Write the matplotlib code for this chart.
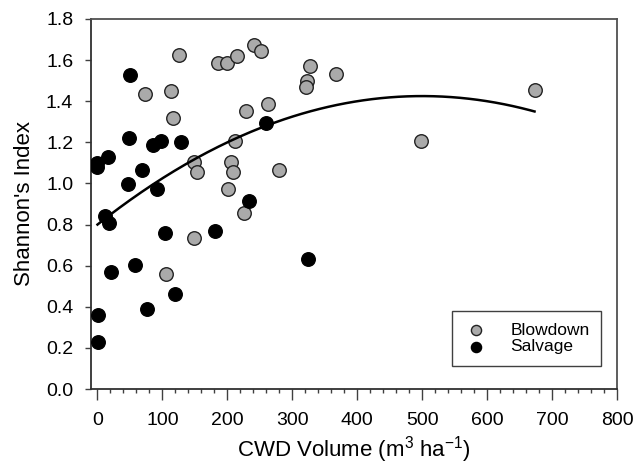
import matplotlib.pyplot as plt
import numpy as np

plt.rcParams['font.family'] = ['Liberation Sans', 'DejaVu Sans']

# Blowdown sites
blow_x = [126, 186, 199, 215, 241, 252, 328, 323, 321, 367, 73, 113, 117, 229,
          263, 212, 149, 153, 205, 209, 279, 201, 225, 148, 106, 498, 673]
blow_y = [1.625, 1.587, 1.584, 1.621, 1.673, 1.645, 1.571, 1.497, 1.467, 1.532,
          1.433, 1.449, 1.317, 1.354, 1.388, 1.208, 1.104, 1.055, 1.104, 1.055,
          1.065, 0.973, 0.858, 0.736, 0.561, 1.205, 1.454]

# Salvage sites
salv_x = [50, 48.5, 85, 98, 129, -1, -1, 16, 69, 47, 92, 259, 233, 12, 18,
          103.5, 181, 324, 21, 57, 119, 76, 1, 1]
salv_y = [1.529, 1.222, 1.187, 1.205, 1.203, 1.101, 1.078, 1.127, 1.065, 0.999,
          0.974, 1.295, 0.914, 0.843, 0.809, 0.757, 0.768, 0.632, 0.571, 0.605,
          0.464, 0.391, 0.358, 0.229]

# quadratic fit  y = c0 + c1*x + c2*x^2
c0, c1, c2 = 0.80, 0.0025, -2.5e-6
fit_start, fit_end = 0, 673

fig = plt.figure(figsize=(6.35, 4.66), dpi=100)
ax = fig.add_axes([91/635, 1 - 389/466, 526/635, 370/466])

xf = np.linspace(fit_start, fit_end, 200)
ax.plot(xf, c0 + c1*xf + c2*xf**2, color='black', lw=1.8, zorder=4)

ax.scatter(blow_x, blow_y, s=95, c='#aaaaaa', edgecolors='#222222',
           linewidths=1, zorder=3, label='Blowdown')
ax.scatter(salv_x, salv_y, s=95, c='black', edgecolors='black',
           linewidths=1, zorder=3, label='Salvage')

ax.set_xlim(-10, 800)
ax.set_ylim(0, 1.8)
for s in ax.spines.values():
    s.set_color('#505050')
    s.set_linewidth(1.3)
ax.spines['left'].set_color('#303030')
ax.spines['bottom'].set_color('#303030')

ax.set_xticks(np.arange(0, 801, 100))
ax.set_xticks(np.arange(0, 801, 20), minor=True)
ax.set_yticks(np.arange(0, 1.81, 0.2))
ax.set_yticklabels(['%.1f' % v for v in np.arange(0, 1.81, 0.2)])
ax.tick_params(axis='both', which='major', labelsize=14, color='#404040',
               width=1, pad=8.5)
ax.tick_params(axis='x', which='major', length=8)
ax.tick_params(axis='y', which='major', length=4.3)
ax.tick_params(axis='x', which='minor', color='#404040', width=1, length=3)

ax.set_xlabel(r'CWD Volume (m$^\mathregular{3}$ ha$^\mathregular{-1}$)', fontsize=16,
              labelpad=4)
ax.set_ylabel("Shannon's Index", fontsize=16, labelpad=8)

leg = ax.legend(loc='lower right', bbox_to_anchor=(0.970, 0.062), fontsize=12.5,
                fancybox=False, framealpha=1, edgecolor='#404040',
                borderpad=0.67, handlelength=1.5, handletextpad=1.2,
                labelspacing=0.1, borderaxespad=0, markerscale=0.75)
leg.get_frame().set_linewidth(1)

fig.savefig('out.png', dpi=100)
